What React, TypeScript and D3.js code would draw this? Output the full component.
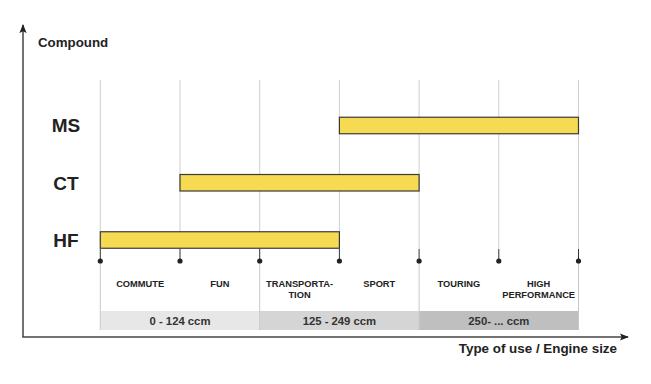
import React from "react";
import * as d3 from "d3";

const compounds = ["MS", "CT", "HF"];
const barStart = [3, 1, 0];
const barEnd = [6, 4, 3];
const useLabels = [["COMMUTE"], ["FUN"], ["TRANSPORTA-", "TION"], ["SPORT"], ["TOURING"], ["HIGH", "PERFORMANCE"]];
const bandLabels = ["0 - 124 ccm", "125 - 249 ccm", "250- ... ccm"];
const tickIdx = [0, 1, 2, 3, 4, 5, 6];

const W = 651, H = 384;
const font = "'Liberation Sans', Arial, Helvetica, sans-serif";

export default function App() {
  const x = d3.scaleLinear().domain([0, 6]).range([100.3, 578.5]);
  const y = d3.scalePoint<string>().domain(compounds).range([125.5, 240]);
  const barH = 16.5;
  const dotY = 261;
  const bandTop = 311, bandBot = 330;
  const bandColors = ["#e7e7e7", "#d5d5d5", "#bfbfbf"];
  return (
    <svg width={W} height={H} style={{ position: "absolute", left: 0, top: 0 }} fontFamily={font}>
      <defs>
        <marker id="arr" viewBox="0 0 10 10" refX="9" refY="5" markerWidth="9" markerHeight="9" markerUnits="userSpaceOnUse" orient="auto">
          <path d="M0,1 L10,5 L0,9 L2,5 Z" fill="#222" />
        </marker>
      </defs>
      <rect width={W} height={H} fill="#fff" />
      {/* bands */}
      {bandLabels.map((b, i) => (
        <g key={b}>
          <rect x={x(i * 2)} y={bandTop} width={x(i * 2 + 2) - x(i * 2)} height={bandBot - bandTop} fill={bandColors[i]} />
          <text x={(x(i * 2) + x(i * 2 + 2)) / 2} y={324.5} textAnchor="middle" fontSize={11.3} fontWeight="bold" fill="#333">{b}</text>
        </g>
      ))}
      {/* gridlines */}
      {tickIdx.map((t) => (
        <g key={t}>
          <line x1={x(t)} x2={x(t)} y1={80} y2={249} stroke="#cfcfcf" strokeWidth={1} />
          <line x1={x(t)} x2={x(t)} y1={249} y2={dotY} stroke="#333" strokeWidth={1} />
          {t % 2 === 0 && <line x1={x(t)} x2={x(t)} y1={dotY} y2={bandBot} stroke="#c8c8c8" strokeWidth={1} />}
          <circle cx={x(t)} cy={dotY} r={2.6} fill="#222" />
        </g>
      ))}
      {/* bars */}
      {compounds.map((c, i) => (
        <g key={c}>
          <rect x={x(barStart[i])} y={(y(c) as number) - barH / 2} width={x(barEnd[i]) - x(barStart[i])} height={barH} fill="#f5da52" stroke="#3a3a3a" strokeWidth={1.2} />
          <text x={66} y={(y(c) as number) + 6.8} textAnchor="middle" fontSize={19} fontWeight="bold" fill="#222">{c}</text>
        </g>
      ))}
      {/* use labels */}
      {useLabels.map((lines, i) => (
        <text key={i} x={(x(i) + x(i + 1)) / 2} y={287} textAnchor="middle" fontSize={9.3} fontWeight="bold" fill="#222">
          {lines.map((l, j) => (
            <tspan key={j} x={(x(i) + x(i + 1)) / 2} dy={j === 0 ? 0 : 11.3}>{l}</tspan>
          ))}
        </text>
      ))}
      {/* axes */}
      <line x1={23} y1={337} x2={23} y2={25} stroke="#444" strokeWidth={1.5} markerEnd="url(#arr)" />
      <line x1={22.3} y1={337} x2={628} y2={337} stroke="#444" strokeWidth={1.5} markerEnd="url(#arr)" />
      <text x={38} y={46.5} fontSize={13.3} fontWeight="bold" fill="#222">Compound</text>
      <text x={617} y={353} textAnchor="end" fontSize={13.4} fontWeight="bold" fill="#222">Type of use / Engine size</text>
    </svg>
  );
}
